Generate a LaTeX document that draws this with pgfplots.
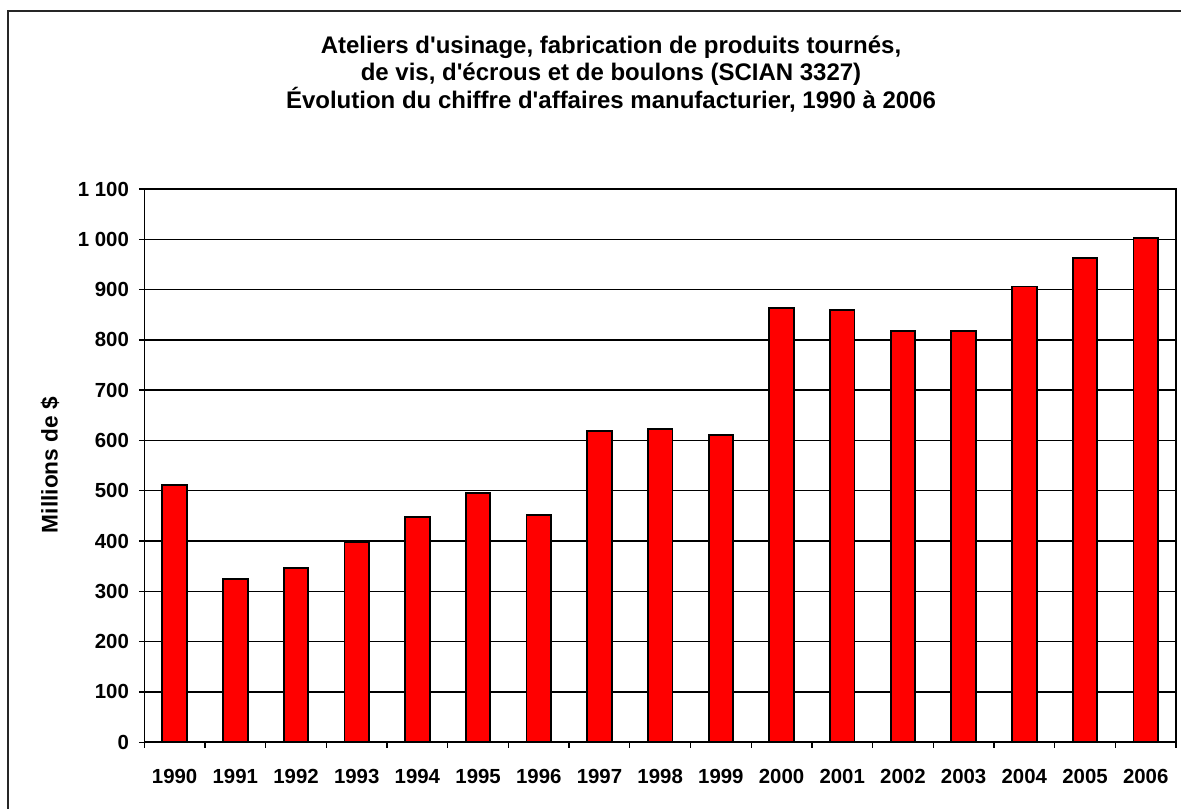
\documentclass[border=0pt]{standalone}
\usepackage{pgfplots}
\pgfplotsset{compat=1.18}
\usepackage{fontspec}
\setmainfont{Liberation Sans}[Ligatures=TeXOff]
\newcommand{\ff}{\fontsize{18}{21}\selectfont\bfseries}
\newcommand{\tf}{\fontsize{15.3}{18}\selectfont\bfseries}
\begin{document}
\begin{tikzpicture}[x=0.75pt,y=0.75pt]
\clip (0,0) rectangle (1181,-809);
\draw[line width=1.6pt,black!85] (8,-830) |- (1200,-11);
\node[font=\ff] at (611,-47) {Ateliers d'usinage, fabrication de produits tournés,};
\node[font=\ff] at (611,-74) {de vis, d'écrous et de boulons (SCIAN 3327)};
\node[font=\ff] at (611,-100) {Évolution du chiffre d'affaires manufacturier, 1990 à 2006};
\node[font=\fontsize{17}{20}\selectfont\bfseries,rotate=90] at (50,-465) {Millions de \$};
\begin{axis}[
  at={(108.225pt,-556.65pt)}, anchor=south west,
  scale only axis, width=773.8pt, height=414.9pt,
  xmin=-0.5, xmax=16.5, ymin=0, ymax=1100,
  xtick={0,...,16},
  xticklabels={1990,1991,1992,1993,1994,1995,1996,1997,1998,1999,2000,2001,2002,2003,2004,2005,2006},
  minor xtick={-0.5,0.5,...,16.5},
  major x tick style={draw=none},
  minor tick length=4pt,
  ytick={0,100,...,1100},
  yticklabels={0,100,200,300,400,500,600,700,800,900,1 000,1 100},
  major tick length=4pt,
  tick align=outside, tick pos=left,
  every tick/.style={black, line width=1pt},
  ymajorgrids, grid style={black, line width=1.1pt},
  axis line style={black, line width=1.1pt},
  ticklabel style={font=\tf},
  xticklabel style={yshift=-13pt},
  yticklabel style={xshift=-4pt},
  ybar, bar width=18.4pt,
]
\addplot[fill=red, draw=black, line width=1.4pt] coordinates {
(0,512) (1,324) (2,346) (3,397) (4,447) (5,496) (6,451) (7,619) (8,623)
(9,611) (10,864) (11,860) (12,817) (13,817) (14,906) (15,963) (16,1002)};
\end{axis}
\end{tikzpicture}
\end{document}
